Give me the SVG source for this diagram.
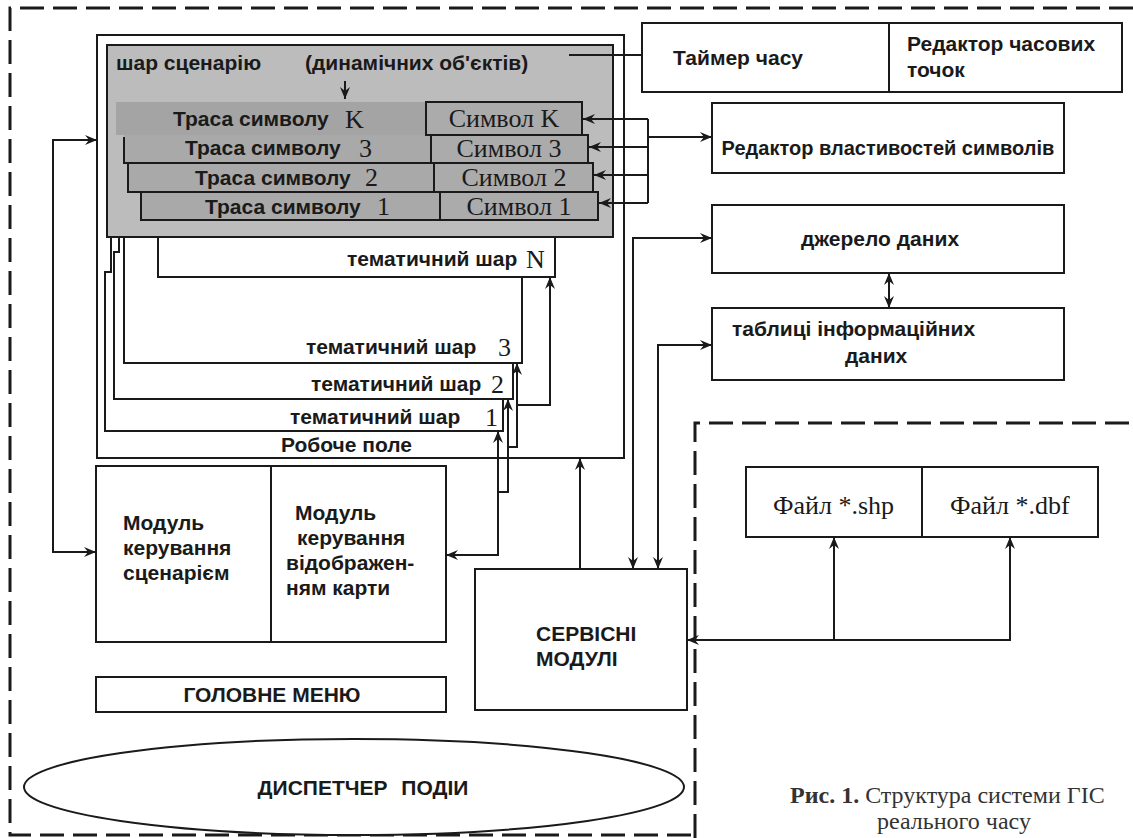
<svg xmlns="http://www.w3.org/2000/svg" width="1133" height="838" viewBox="0 0 1133 838">
<defs>
<marker id="ah" viewBox="0 0 12 10" refX="12" refY="5" markerWidth="12" markerHeight="10" markerUnits="userSpaceOnUse" orient="auto-start-reverse">
<path d="M0,0 L12,5 L0,10 L4,5 z" fill="#1a1a1a"/>
</marker>
</defs>
<style>
.box{fill:#fff;stroke:#1a1a1a;stroke-width:2}
.gbox{stroke:#1a1a1a;stroke-width:2}
.ln{fill:none;stroke:#1a1a1a;stroke-width:2}
.ar{fill:none;stroke:#1a1a1a;stroke-width:2;marker-end:url(#ah)}
.ar2{fill:none;stroke:#1a1a1a;stroke-width:2;marker-start:url(#ah);marker-end:url(#ah)}
.dash{fill:none;stroke:#1a1a1a;stroke-width:3;stroke-dasharray:24 9}
.t{font-family:"Liberation Sans",Arial,sans-serif;font-weight:bold;font-size:21px;fill:#1a1a1a}
.s{font-family:"Liberation Serif","Times New Roman",serif;font-size:26px;fill:#1a1a1a}
.c{font-family:"Liberation Serif","Times New Roman",serif;font-size:24px;fill:#333}
</style>
<rect width="1133" height="838" fill="#fff"/>
<g id="boundary">
<path class="dash" d="M1133,8 H10 V835 H695"/>
<path class="dash" d="M695,838 V423 H1133"/>
</g>
<g id="work-field">
<rect class="box" x="97" y="35" width="527" height="423"/>
<text class="t" x="281" y="452">Робоче поле</text>
</g>
<g id="layer-1">
<path class="ln" d="M111,237 V272 H105 V431 H503 V399"/>
<text class="t" x="290" y="424">тематичний шар</text>
<text class="s" x="485" y="426">1</text>
</g>
<g id="layer-2">
<path class="ln" d="M119,237 V252 H114 V399 H513 V363"/>
<text class="t" x="311" y="391">тематичний шар</text>
<text class="s" x="491" y="393">2</text>
</g>
<g id="layer-3">
<path class="ln" d="M124,237 V363 H522 V277"/>
<text class="t" x="306" y="354">тематичний шар</text>
<text class="s" x="498" y="356">3</text>
</g>
<g id="layer-n">
<path class="ln" d="M158,237 V277 H555 V237"/>
<text class="t" x="347" y="266">тематичний шар</text>
<text class="s" x="526" y="268">N</text>
</g>
<g id="scenario-layer">
<rect class="gbox" x="107" y="45" width="506" height="192" fill="#bcbcbc"/>
<text class="t" x="116" y="70">шар сценарію</text>
<text class="t" x="305" y="70">(динамічних об'єктів)</text>
<path class="ar" d="M345,81 V99"/>
</g>
<g id="trace-k">
<rect x="116" y="102" width="310" height="33" fill="#a4a4a4"/>
<text class="t" x="173" y="126">Траса символу</text>
<text class="s" x="345" y="128">K</text>
</g>
<g id="trace-3">
<rect x="124" y="135" width="307" height="28" fill="#a9a9a9"/>
<path class="ln" d="M124,137 V163 H431"/>
<text class="t" x="185" y="155">Траса символу</text>
<text class="s" x="359" y="157">3</text>
</g>
<g id="trace-2">
<rect class="gbox" x="128" y="163" width="306" height="29" fill="#a9a9a9"/>
<text class="t" x="195" y="185">Траса символу</text>
<text class="s" x="365" y="186">2</text>
</g>
<g id="trace-1">
<rect class="gbox" x="141" y="192" width="299" height="28" fill="#a9a9a9"/>
<text class="t" x="205" y="214">Траса символу</text>
<text class="s" x="377" y="215">1</text>
</g>
<g id="symbol-k">
<rect class="gbox" x="426" y="102" width="156" height="33" fill="#ababab"/>
<text class="s" x="504" y="127" text-anchor="middle">Символ K</text>
</g>
<g id="symbol-3">
<rect class="gbox" x="431" y="135" width="157" height="28" fill="#ababab"/>
<text class="s" x="509" y="157" text-anchor="middle">Символ 3</text>
</g>
<g id="symbol-2">
<rect class="gbox" x="434" y="163" width="159" height="29" fill="#ababab"/>
<text class="s" x="514" y="186" text-anchor="middle">Символ 2</text>
</g>
<g id="symbol-1">
<rect class="gbox" x="440" y="192" width="158" height="28" fill="#ababab"/>
<text class="s" x="519" y="215" text-anchor="middle">Символ 1</text>
</g>
<g id="timer">
<rect class="box" x="642" y="23" width="480" height="69"/>
<line class="ln" x1="889" y1="23" x2="889" y2="92"/>
<text class="t" x="673" y="65">Таймер часу</text>
<text class="t" x="907" y="51">Редактор часових</text>
<text class="t" x="907" y="77">точок</text>
</g>
<g id="symbol-editor">
<rect class="box" x="712" y="103" width="352" height="70"/>
<text class="t" x="888" y="155" text-anchor="middle" style="font-size:20px">Редактор  властивостей символів</text>
</g>
<g id="data-source">
<rect class="box" x="712" y="205" width="352" height="68"/>
<text class="t" x="880" y="246" text-anchor="middle">джерело даних</text>
</g>
<g id="info-tables">
<rect class="box" x="712" y="308" width="352" height="72"/>
<text class="t" x="732" y="336">таблиці інформаційних</text>
<text class="t" x="845" y="363">даних</text>
</g>
<g id="scenario-module">
<rect class="box" x="96" y="466" width="175" height="176"/>
<text class="t" x="123" y="530">Модуль</text>
<text class="t" x="123" y="555">керування</text>
<text class="t" x="123" y="580">сценарієм</text>
</g>
<g id="map-module">
<rect class="box" x="271" y="466" width="175" height="176"/>
<text class="t" x="295" y="520">Модуль</text>
<text class="t" x="297" y="545">керування</text>
<text class="t" x="286" y="570">відображен-</text>
<text class="t" x="286" y="595">ням карти</text>
</g>
<g id="main-menu">
<rect class="box" x="96" y="677" width="350" height="35"/>
<text class="t" x="272" y="702" text-anchor="middle">ГОЛОВНЕ МЕНЮ</text>
</g>
<g id="event-dispatcher">
<ellipse class="box" cx="354" cy="787" rx="330" ry="48"/>
<text class="t" x="363" y="795" text-anchor="middle" style="word-spacing:8px">ДИСПЕТЧЕР ПОДІИ</text>
</g>
<g id="service-modules">
<rect class="box" x="475" y="569" width="212" height="141"/>
<text class="t" x="536" y="641">СЕРВІСНІ</text>
<text class="t" x="536" y="666">МОДУЛІ</text>
</g>
<g id="files">
<rect class="box" x="746" y="467" width="352" height="70"/>
<line class="ln" x1="922" y1="467" x2="922" y2="537"/>
<text class="s" x="773" y="514">Файл *.shp</text>
<text class="s" x="950" y="514">Файл *.dbf</text>
</g>
<g id="connectors">
<path class="ar2" d="M97,140 H53 V552 H96"/>
<path class="ln" d="M569,55 H642"/>
<path class="ln" d="M648,119 V203"/>
<path class="ar" d="M648,119 H583"/>
<path class="ar" d="M648,147 H589"/>
<path class="ar" d="M648,175 H594"/>
<path class="ar" d="M648,203 H599"/>
<path class="ar" d="M648,137 H712"/>
<path class="ar2" d="M712,238 H633 V569"/>
<path class="ar2" d="M712,345 H658 V569"/>
<path class="ar2" d="M889,273 V308"/>
<path class="ar" d="M580,569 V458"/>
<path class="ar2" d="M687,640 H1010 V537"/>
<path class="ar" d="M834,640 V537"/>
<path class="ar2" d="M446,555 H498 V431"/>
<path class="ar" d="M498,492 H508 V399"/>
<path class="ar" d="M508,447 H517 V363"/>
<path class="ar" d="M517,405 H550 V277"/>
</g>
<g id="caption">
<text class="c" x="790" y="803"><tspan font-weight="bold">Рис. 1.</tspan> Структура системи ГІС</text>
<text class="c" x="877" y="829">реального часу</text>
</g>
</svg>
